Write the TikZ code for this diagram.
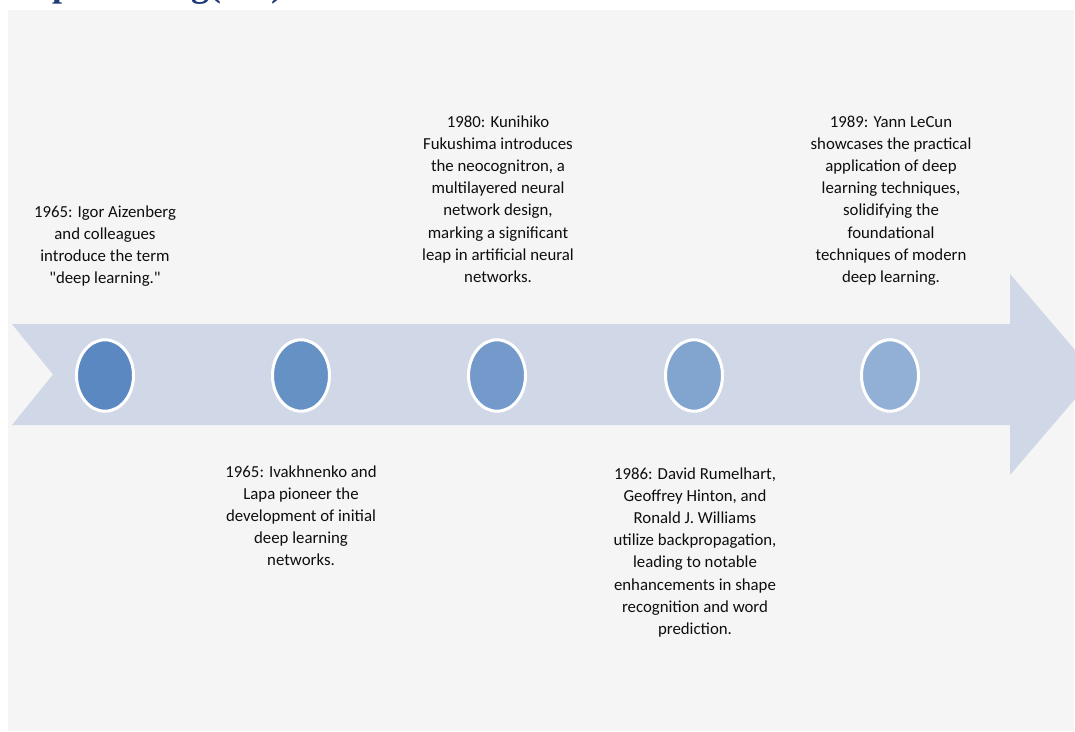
\documentclass[tikz,border=0pt]{standalone}
\usepackage{fontspec}
\setmainfont{Carlito}[Ligatures=TeXOff]
\newfontfamily\headfont{Liberation Serif}
\usetikzlibrary{shapes.geometric}

\definecolor{panelgray}{HTML}{F5F5F5}
\definecolor{bandblue}{HTML}{D0D8E7}
\definecolor{headblue}{HTML}{203A78}
\definecolor{dotA}{HTML}{5B88C0}
\definecolor{dotB}{HTML}{6691C5}
\definecolor{dotC}{HTML}{739ACB}
\definecolor{dotD}{HTML}{82A5D0}
\definecolor{dotE}{HTML}{92B0D6}
\definecolor{notetext}{HTML}{0E0E0E}

% captions are placed by the baseline of their last line
\tikzset{
  note/.style={align=center, anchor=base, inner sep=0pt, text=notetext,
    font=\fontsize{16.8}{22.2}\selectfont},
  milestone/.style={ellipse, draw=white, line width=3pt, inner sep=0pt,
    minimum width=57pt, minimum height=71.4pt},
}

\begin{document}
\begin{tikzpicture}[x=1pt, y=-1pt]
  % page frame
  \useasboundingbox (0,0) rectangle (1075,731);
  \clip (0,0) rectangle (1075,731);
  \fill[white] (0,0) rectangle (1075,731);

  % heading (runs off the top edge)
  \node[anchor=base west, inner sep=0pt, text=headblue,
        font=\headfont\bfseries\fontsize{36}{40}\selectfont] (head) at (-6,-4) {Deep learning(DL)};

  % grey panel
  \fill[panelgray] (8,10) rectangle (1074,731);

  % timeline arrow
  \fill[bandblue] (12,324) -- (1010,324) -- (1010,274) -- (1096,374.5)
    -- (1010,475) -- (1010,425) -- (12,425) -- (53,374.5) -- cycle;

  % milestones
  \node[milestone, fill=dotA] (c1) at (105,375.5) {};
  \node[milestone, fill=dotB] (c2) at (301,375.5) {};
  \node[milestone, fill=dotC] (c3) at (497,375.5) {};
  \node[milestone, fill=dotD] (c4) at (694,375.5) {};
  \node[milestone, fill=dotE] (c5) at (890,375.5) {};

  % captions
  \node[note] (t1) at (105,283.6) {1965: Igor Aizenberg\\and colleagues\\introduce the term\\"deep learning."};
  \node[note] (t2) at (301,565.8) {1965: Ivakhnenko and\\Lapa pioneer the\\development of initial\\deep learning\\networks.};
  \node[note] (t3) at (498,282.4) {1980: Kunihiko\\Fukushima introduces\\the neocognitron, a\\multilayered neural\\network design,\\marking a significant\\leap in artificial neural\\networks.};
  \node[note] (t4) at (695,634.4) {1986: David Rumelhart,\\Geoffrey Hinton, and\\Ronald J. Williams\\utilize backpropagation,\\leading to notable\\enhancements in shape\\recognition and word\\prediction.};
  \node[note] (t5) at (891,282.4) {1989: Yann LeCun\\showcases the practical\\application of deep\\learning techniques,\\solidifying the\\foundational\\techniques of modern\\deep learning.};
\end{tikzpicture}
\end{document}
